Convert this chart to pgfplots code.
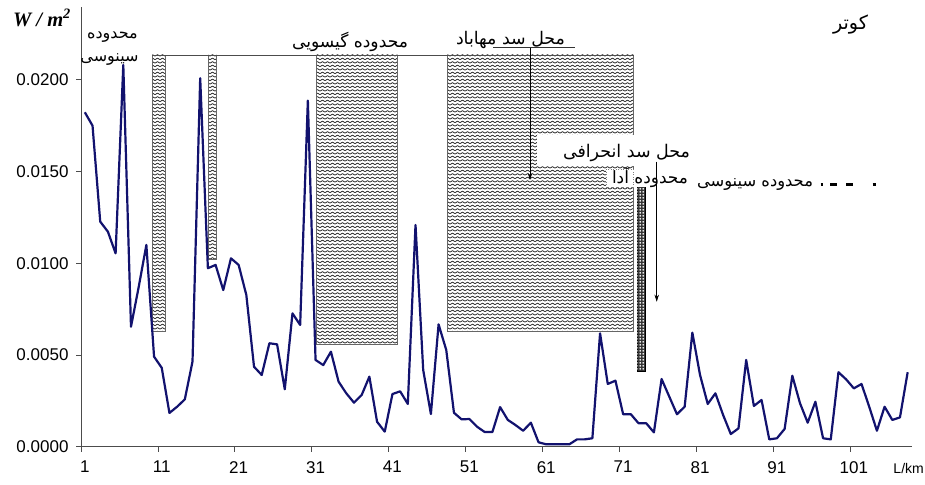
\documentclass[border=0pt]{standalone}
\usepackage{fontspec}
\setmainfont{Liberation Sans}
\newfontfamily\arabicfont[Script=Arabic]{DejaVu Sans}
\newfontfamily\timesfont{Liberation Serif}
\TeXXeTstate=1
\usepackage{pgfplots}
\pgfplotsset{compat=1.18}
\usetikzlibrary{patterns,arrows.meta}
\definecolor{navyline}{RGB}{18,18,110}
\pgfdeclarepatternformonly{zigzag}{\pgfpoint{-0.5pt}{-0.5pt}}{\pgfpoint{5.5pt}{4pt}}{\pgfpoint{5pt}{3.5pt}}{%
  \pgfsetlinewidth{0.7pt}%
  \pgfpathmoveto{\pgfpoint{0pt}{0.9pt}}%
  \pgfpathlineto{\pgfpoint{2.5pt}{2.3pt}}%
  \pgfpathlineto{\pgfpoint{5pt}{0.9pt}}%
  \pgfusepath{stroke}}
\pgfdeclarepatternformonly{ringdots}{\pgfpoint{0pt}{0pt}}{\pgfpoint{3pt}{3pt}}{\pgfpoint{3pt}{3pt}}{%
  \pgfsetlinewidth{0.5pt}%
  \pgfpathcircle{\pgfpoint{1.5pt}{1.5pt}}{0.8pt}%
  \pgfusepath{stroke}}
\pgfplotstableread{
x y
1 0.01823
2 0.0175
3 0.01227
4 0.01172
5 0.01054
6 0.02081
7 0.00654
8 0.0087
9 0.0110
10 0.00491
11 0.0043
12 0.00184
13 0.00218
14 0.00258
15 0.00464
16 0.02009
17 0.00973
18 0.00991
19 0.00854
20 0.01027
21 0.00991
22 0.00827
23 0.00436
24 0.00391
25 0.00564
26 0.00558
27 0.00313
28 0.00727
29 0.00664
30 0.01887
31 0.00473
32 0.00445
33 0.00518
34 0.00354
35 0.00291
36 0.0024
37 0.00282
38 0.00382
39 0.00136
40 0.00082
41 0.00287
42 0.00302
43 0.00233
44 0.01209
45 0.00418
46 0.00178
47 0.00667
48 0.00527
49 0.00185
50 0.00149
51 0.00151
52 0.00109
53 0.0008
54 0.0008
55 0.00216
56 0.00146
57 0.00118
58 0.00087
59 0.00131
60 0.00024
61 0.00013
62 0.00013
63 0.00013
64 0.00013
65 0.0004
66 0.0004
67 0.00046
68 0.00618
69 0.00342
70 0.0036
71 0.00177
72 0.00177
73 0.00128
74 0.00128
75 0.00078
76 0.00369
77 0.00273
78 0.00177
79 0.00218
80 0.00622
81 0.00391
82 0.00233
83 0.00291
84 0.00173
85 0.00069
86 0.001
87 0.00473
88 0.00222
89 0.00255
90 0.0004
91 0.00046
92 0.00097
93 0.00387
94 0.00237
95 0.00131
96 0.00245
97 0.00046
98 0.0004
99 0.00406
100 0.00367
101 0.00318
102 0.00342
103 0.00218
104 0.00087
105 0.00218
106 0.00146
107 0.0016
108 0.00406
}\datatable
\begin{document}
\begin{tikzpicture}[x=1pt,y=1pt]
\path[use as bounding box] (0,0) rectangle (925,-484);
\begin{axis}[
  at={(81pt,-446.7pt)}, anchor=south west,
  scale only axis, width=830.5pt, height=439.7pt,
  xmin=0.5, xmax=108.5, ymin=0, ymax=0.02397,
  axis lines=left,
  axis line style={-, black!70, line width=0.8pt},
  tick align=outside, major tick length=5pt,
  tick style={black!70, line width=0.8pt},
  xtick={0.5,10.5,20.5,30.5,40.5,50.5,60.5,70.5,80.5,90.5,100.5},
  xticklabels={},
  extra x ticks={1,11,21,31,41,51,61,71,81,91,101},
  extra x tick labels={1,11,21,31,41,51,61,71,81,91,101},
  extra x tick style={major tick length=0pt},
  ytick={0,0.005,0.01,0.015,0.02},
  yticklabels={0.0000,0.0050,0.0100,0.0150,0.0200},
  ticklabel style={font=\fontsize{17}{19}\selectfont},
  yticklabel style={xshift=-4pt},
  xticklabel style={yshift=-11pt},
  clip=false,
]
\addplot[draw=black!60, line width=0.7pt, pattern=zigzag, pattern color=black!90] coordinates {(9.77,0.0063) (11.51,0.0063) (11.51,0.02136) (9.77,0.02136)} -- cycle;
\addplot[draw=black!60, line width=0.7pt, pattern=zigzag, pattern color=black!90] coordinates {(17.05,0.01023) (18.15,0.01023) (18.15,0.02136) (17.05,0.02136)} -- cycle;
\addplot[draw=black!60, line width=0.7pt, pattern=zigzag, pattern color=black!90] coordinates {(31.15,0.0056) (41.63,0.0056) (41.63,0.02136) (31.15,0.02136)} -- cycle;
\addplot[draw=black!60, line width=0.7pt, pattern=zigzag, pattern color=black!90] coordinates {(48.13,0.0063) (72.35,0.0063) (72.35,0.02136) (48.13,0.02136)} -- cycle;
\addplot[draw=black, fill=black!80, line width=0.6pt] coordinates {(72.84,0.00413) (73.84,0.00413) (73.84,0.01421) (72.84,0.01421)} -- cycle;
\addplot[draw=none, pattern=ringdots, pattern color=white] coordinates {(72.84,0.00413) (73.84,0.00413) (73.84,0.01421) (72.84,0.01421)} -- cycle;
\addplot[navyline, line width=2.2pt, line join=round, mark=none] table[x=x,y=y] {\datatable};
\end{axis}
% annotations (pixel coordinates)
\draw[black!70, line width=0.8pt] (152.3,-55) -- (633.5,-55);
\draw[black!80, line width=0.7pt] (493,-47.7) -- (575,-47.7);
\draw[black, line width=0.7pt, -{Stealth[length=7pt,width=4.5pt]}] (530,-47.7) -- (530,-180);
\fill[white] (537,-135) rectangle (695,-166);
\fill[white] (606,-169) rectangle (690,-187);
\draw[black!50, dotted, line width=0.5pt] (606,-169) rectangle (633,-187);
\draw[black, line width=0.7pt, -{Stealth[length=7pt,width=4.5pt]}] (656.7,-161.7) -- (656.7,-301.7);
\node[font=\timesfont\bfseries\itshape\fontsize{20.5}{22}\selectfont, inner sep=0pt] at (42,-18) {W / m\textsuperscript{2}};
\node[inner sep=0pt, font=\arabicfont\fontsize{16}{18}\selectfont] at (112.5,-37) {\beginR محدوده\endR};
\node[inner sep=0pt, font=\arabicfont\fontsize{16}{18}\selectfont] at (109.5,-60) {\beginR سینوسی\endR};
\node[inner sep=0pt] at (350,-42) {\resizebox{116pt}{!}{\arabicfont\beginR محدوده گیسویی\endR}};
\node[inner sep=0pt] at (510.5,-40) {\resizebox{109pt}{!}{\arabicfont\beginR محل سد مهاباد\endR}};
\node[inner sep=0pt] at (626.5,-153) {\resizebox{127pt}{!}{\arabicfont\beginR محل سد انحرافی\endR}};
\node[inner sep=0pt] at (650,-178) {\resizebox{76pt}{!}{\arabicfont\beginR محدوده آدا\endR}};
\node[inner sep=0pt] at (755,-185) {\resizebox{116pt}{!}{\arabicfont\beginR محدوده سینوسی\endR}};
\node[inner sep=0pt] at (850.5,-25) {\resizebox{35pt}{!}{\arabicfont\beginR کوتر\endR}};
\draw[black, line width=2.3pt] (820.7,-184.5) -- (823.3,-184.5) (830,-184.5) -- (837.3,-184.5) (846,-184.5) -- (853.3,-184.5) (872.7,-184.5) -- (876,-184.5);
\node[anchor=east, inner sep=0pt, font=\fontsize{14}{16}\selectfont] at (924,-468) {L/km};
\end{tikzpicture}
\end{document}
